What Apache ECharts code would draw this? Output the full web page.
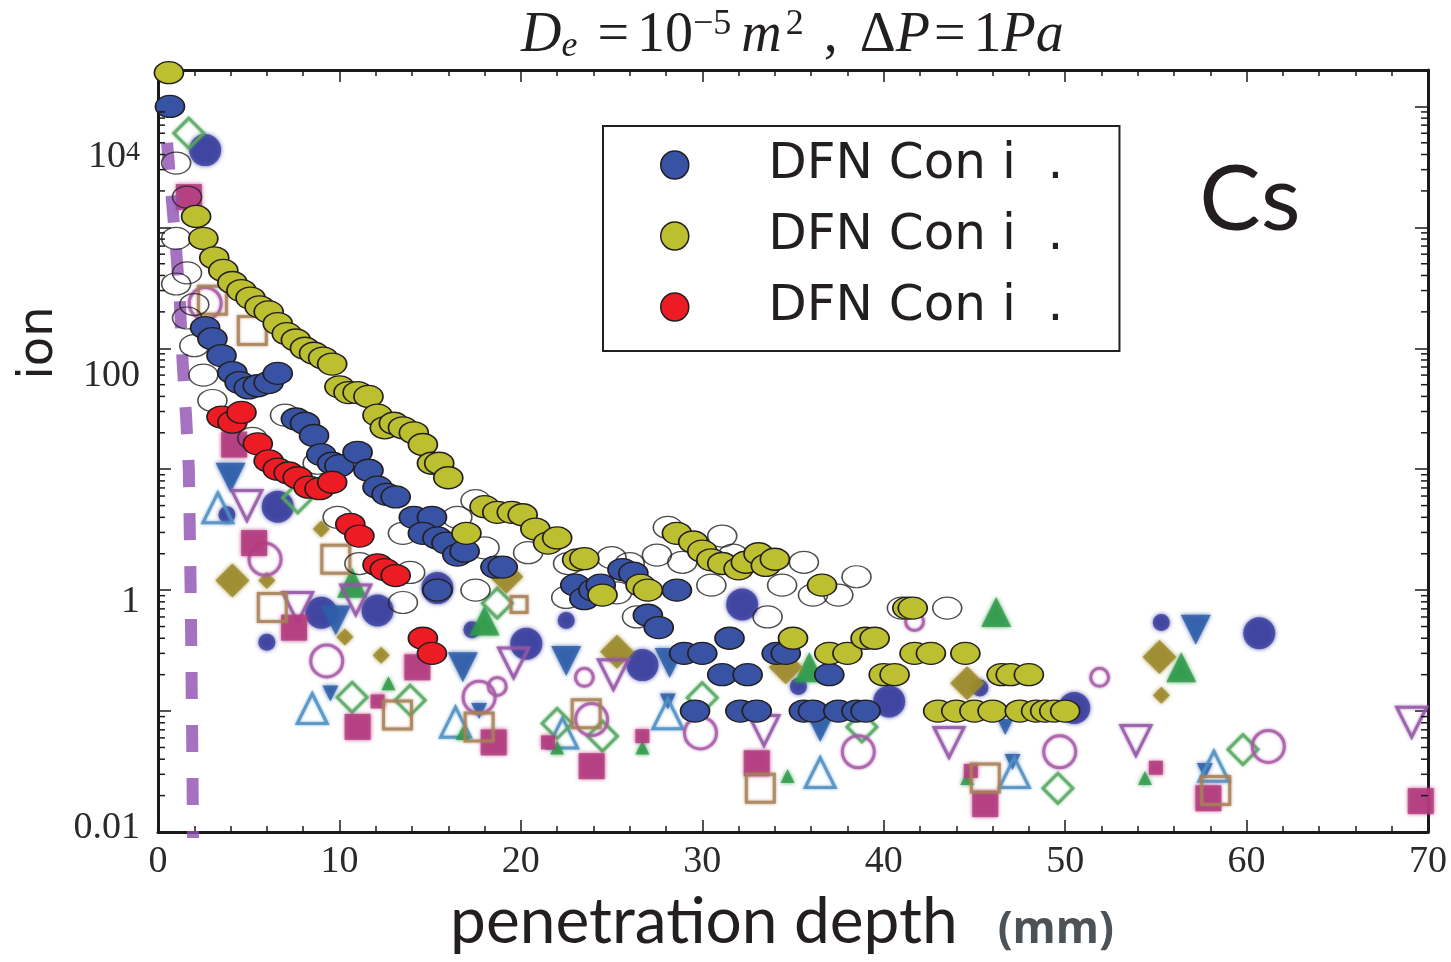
<!DOCTYPE html>
<html>
<head>
<meta charset="utf-8">
<script src="https://cdn.jsdelivr.net/npm/echarts@6/dist/echarts.min.js"></script>
<style>
  html, body { margin: 0; padding: 0; background: #fff; }
  #chart { width: 1451px; height: 962px; }
</style>
</head>
<body>
<div id="chart"></div>
<script>
// axis ranges
var xMin = 0, xMax = 70, yMin = 0.01, yMax = 20000;

// y tick labels (log decade -> label), shifted like in the scan
var yLabels = {
  '-2': '{t|0.01}\n{s7| }',
  '0': '{s24| }\n{t|1}',
  '2': '{s56| }\n{t|100}',
  '4': '{s102| }\n{t|10}{sup|4}'
};
var legendText = 'DFN Con i  .';

// DFN simulations [depth mm, value]
var blueDFN = [
  [0.66, 10000], [2.6, 148], [3.0, 120], [3.5, 87], [4.1, 63], [4.5, 52], [5.0, 47], [5.5, 49], [6.1, 52], [6.6, 62],
  [7.6, 26], [8.1, 24], [8.6, 19], [9.0, 13.2], [9.6, 11.2], [10.0, 10.7], [11.0, 13.8], [11.6, 9.8], [12.1, 7.1],
  [12.6, 6.2], [13.1, 5.9], [14.1, 4.0], [15.1, 4.0], [14.6, 2.95], [15.4, 2.7], [15.9, 2.45], [16.5, 1.95], [16.9, 2.1],
  [15.4, 1.0], [18.6, 1.55], [19.0, 1.55], [23.0, 1.1], [23.5, 0.85], [24.0, 1.0], [24.4, 1.1], [25.6, 1.48], [26.2, 1.38],
  [28.6, 1.0], [27.0, 0.62], [27.6, 0.49], [29.0, 0.3], [30.0, 0.3], [31.5, 0.4], [31.1, 0.2], [32.5, 0.2], [34.1, 0.3],
  [34.6, 0.3], [37.0, 0.2], [29.6, 0.1], [32.1, 0.1], [33.0, 0.1], [35.6, 0.1], [36.1, 0.1], [37.5, 0.1], [38.5, 0.1], [39.0, 0.1]
];
var yellowDFN = [
  [0.6, 19000], [2.1, 1230], [2.5, 810], [3.1, 560], [3.6, 440], [4.1, 350], [4.6, 300], [5.1, 260], [5.6, 220], [6.1, 200],
  [6.6, 160], [7.1, 132], [7.6, 117], [8.1, 100], [8.6, 91], [9.1, 83], [9.6, 74], [10.0, 48], [10.5, 43], [11.0, 43],
  [11.6, 40], [12.1, 28], [12.5, 22], [13.0, 24], [13.5, 22], [14.1, 20], [14.6, 16], [15.1, 11.2], [15.5, 11.2], [16.0, 8.5],
  [17.0, 2.95], [18.0, 4.9], [18.7, 4.4], [19.5, 4.4], [20.1, 4.2], [20.8, 3.2], [21.5, 2.45], [22.0, 2.7], [23.1, 1.78],
  [23.5, 1.82], [24.5, 0.91], [26.6, 1.1], [27.0, 1.0], [28.6, 2.95], [29.5, 2.5], [30.0, 2.1], [30.5, 1.78], [31.1, 1.66],
  [32.0, 1.5], [32.4, 1.7], [33.1, 2.0], [33.5, 1.6], [34.0, 1.8], [35.0, 0.4], [36.6, 1.1], [37.0, 0.3], [38.0, 0.3],
  [39.0, 0.4], [39.5, 0.4], [40.0, 0.2], [40.6, 0.2], [41.3, 0.71], [41.6, 0.71], [41.7, 0.3], [42.6, 0.3], [44.5, 0.3],
  [46.5, 0.2], [47.0, 0.2], [48.0, 0.2], [43.0, 0.1], [44.0, 0.1], [45.0, 0.1], [46.0, 0.1], [47.5, 0.1], [48.4, 0.1],
  [48.9, 0.1], [49.4, 0.1], [50.0, 0.1]
];
var redDFN = [
  [3.5, 27], [4.1, 24.5], [4.6, 29.5], [5.5, 16.2], [6.1, 11.7], [6.6, 10], [7.2, 9.3], [7.7, 8.5], [8.3, 7.1], [8.9, 6.9],
  [9.6, 7.8], [10.6, 3.5], [11.1, 2.8], [12.1, 1.62], [12.5, 1.48], [13.1, 1.32], [14.6, 0.4], [15.1, 0.3]
];
var openDFN = [
  [1.0, 3400], [1.6, 1780], [1.0, 810], [1.6, 420], [1.0, 340], [2.0, 230], [1.6, 178], [2.0, 105], [2.5, 60], [3.0, 37],
  [7.0, 28], [5.2, 18], [8.8, 11.2], [9.9, 4.0], [11.1, 1.66], [13.9, 1.4], [13.5, 2.95], [13.5, 0.79], [16.5, 4.0],
  [17.5, 5.5], [18.0, 2.24], [20.4, 2.04], [17.5, 1.0], [22.5, 0.87], [22.6, 1.66], [25.0, 1.86], [26.0, 1.66], [27.5, 1.95],
  [25.3, 0.95], [26.4, 0.6], [28.1, 3.3], [28.9, 1.7], [31.1, 2.8], [30.5, 1.1], [31.7, 1.95], [35.6, 1.7], [34.4, 1.1],
  [36.1, 0.91], [37.5, 0.91], [38.5, 1.29], [33.6, 0.6], [41.0, 0.71], [43.5, 0.71]
];

// experimental points of the scanned background figure
var bigBlue = [[2.6, 4350], [6.6, 4.9], [9.0, 0.65], [12.1, 0.68], [15.4, 1.04], [20.3, 0.36], [26.7, 0.24], [32.2, 0.76], [40.3, 0.12], [50.5, 0.106], [60.7, 0.44]];
var smallBlue = [[3.8, 4.2], [6.0, 0.37], [17.3, 0.47], [22.5, 0.56], [35.3, 0.16], [45.3, 0.155], [55.3, 0.54]];
var blueTri = [[4.0, 8.5], [9.8, 0.56], [16.8, 0.23], [22.5, 0.26], [28.2, 0.25], [36.5, 0.074], [57.2, 0.47]];
var blueTriSmall = [[9.5, 0.14], [17.7, 0.1], [28.1, 0.12], [46.7, 0.074], [47.1, 0.038], [57.7, 0.032]];
var tealTri = [[3.3, 4.8], [8.5, 0.105], [16.4, 0.081], [22.3, 0.066], [28.1, 0.095], [36.5, 0.031], [47.2, 0.031], [58.2, 0.035]];
var greenTri = [[10.7, 1.15], [18.0, 0.56], [35.9, 0.23], [46.2, 0.66], [56.4, 0.23]];
var greenTriSmall = [[12.7, 0.17], [16.8, 0.066], [22.0, 0.05], [26.7, 0.05], [34.7, 0.029], [44.6, 0.028], [54.4, 0.028]];
var greenDiamond = [[1.7, 6000], [7.7, 5.8], [18.7, 0.78], [10.7, 0.13], [13.9, 0.123], [22.0, 0.079], [24.5, 0.062], [30.0, 0.129], [38.8, 0.074], [49.6, 0.023], [59.8, 0.048]];
var oliveDiamond = [[4.1, 1.2], [19.2, 1.29], [25.3, 0.31], [34.6, 0.23], [44.6, 0.17], [55.2, 0.28]];
var oliveDiamondSmall = [[6.0, 1.2], [9.0, 3.2], [10.3, 0.41], [12.3, 0.29], [55.3, 0.135]];
var purpleCircle = [[2.6, 235], [5.9, 1.8], [9.3, 0.26], [17.7, 0.13], [23.9, 0.085], [29.9, 0.066], [38.6, 0.046], [49.7, 0.046], [61.2, 0.051]];
var purpleCircleSmall = [[18.7, 0.16], [23.5, 0.19], [41.7, 0.55], [51.9, 0.19]];
var purpleTri = [[4.9, 5.0], [7.7, 0.72], [10.9, 0.83], [19.6, 0.25], [25.1, 0.2], [33.4, 0.069], [43.6, 0.055], [53.9, 0.057], [69.1, 0.081]];
var magentaSq = [[1.7, 1780], [4.2, 16], [5.3, 2.45], [7.5, 0.49], [14.3, 0.23], [11.0, 0.074], [18.5, 0.055], [23.9, 0.035], [33.0, 0.037], [45.6, 0.017], [57.9, 0.019], [69.6, 0.018]];
var magentaSqSmall = [[12.1, 0.12], [21.5, 0.055], [26.7, 0.062], [44.8, 0.032], [55.0, 0.034]];
var orangeSq = [[3.0, 250], [5.2, 140], [6.3, 0.72], [9.8, 1.8], [13.2, 0.093], [17.7, 0.074], [23.6, 0.095], [33.2, 0.023], [45.6, 0.028], [58.3, 0.022]];
var orangeSqSmall = [[19.9, 0.76]];
// purple dashed model curve
var dashCurve = [[0.5, 5000], [1.0, 650], [1.2, 250], [1.35, 80], [1.55, 27], [1.7, 10], [1.8, 1], [1.87, 0.1], [1.93, 0.01], [1.95, 0.006]];

var font = 'Liberation Serif';
var ink = '#231f20';
var ellipse = 'path://M0,10A10,10 0 1,1 20,10A10,10 0 1,1 0,10Z';

// log minor ticks 2..9 per decade
var minorTicks = [];
for (var k = -2; k < 4; k++) {
  for (var m = 2; m <= 9; m++) minorTicks.push([0, m * Math.pow(10, k)]);
}

function bg(data, symbol, size, color, hollow, rotate) {
  return {
    type: 'scatter', data: data, symbol: symbol, symbolSize: size, symbolRotate: rotate || 0,
    silent: true, z: 1,
    itemStyle: hollow
      ? { color: 'rgba(255,255,255,0)', borderColor: color, borderWidth: 3, opacity: 0.8, shadowBlur: 3, shadowColor: color }
      : { color: color, opacity: 0.82, shadowBlur: 4, shadowColor: color }
  };
}
function dfn(name, data, color) {
  return {
    name: name, type: 'scatter', data: data, symbol: ellipse, symbolSize: [29, 22], z: 3,
    itemStyle: { color: color, borderColor: ink, borderWidth: 1.5, opacity: 1 }
  };
}

var myChart = echarts.init(document.getElementById('chart'));

var xAxisBase = {
  type: 'value', min: xMin, max: xMax, interval: 10,
  axisLine: { show: true, onZero: false, lineStyle: { color: '#1a1a1a', width: 3 } },
  axisTick: { show: true, inside: true, length: 12, lineStyle: { color: '#1a1a1a', width: 1.5 } },
  minorTick: { show: true, splitNumber: 5, length: 6, lineStyle: { color: '#1a1a1a', width: 1.5 } },
  splitLine: { show: false }
};
var yAxisBase = {
  type: 'log', logBase: 10, min: yMin, max: yMax, interval: 1,
  axisLine: { show: true, onZero: false, lineStyle: { color: '#1a1a1a', width: 3 } },
  axisTick: { show: true, inside: true, length: 13, lineStyle: { color: '#1a1a1a', width: 1.5 } },
  splitLine: { show: false }
};

var tNorm = { fontFamily: font, fontWeight: 'normal', color: ink };
function ts(extra) { return Object.assign({}, tNorm, extra); }

var option = {
  animation: false,
  backgroundColor: '#fff',
  title: {
    left: 516, top: 2,
    text: '{it|D}{sub|e}{eq|=}{n|10}{sup|\u22125}{m|m}{sup|2}{cm|,}{dl|\u0394}{it|P}{eq2|=}{n|1}{it|Pa}',
    textStyle: {
      fontWeight: 'normal',
      rich: {
        n: ts({ fontSize: 56, lineHeight: 58 }),
        it: ts({ fontSize: 56, lineHeight: 58, fontStyle: 'italic' }),
        m: ts({ fontSize: 56, lineHeight: 58, fontStyle: 'italic', padding: [0, 4, 0, 10] }),
        eq: ts({ fontSize: 56, lineHeight: 58, padding: [0, 8, 0, 20] }),
        eq2: ts({ fontSize: 56, lineHeight: 58, padding: [0, 8, 0, 4] }),
        cm: ts({ fontSize: 56, lineHeight: 58, padding: [0, 0, 0, 20] }),
        dl: ts({ fontSize: 56, lineHeight: 58, padding: [0, 0, 0, 22] }),
        sup: ts({ fontSize: 36, lineHeight: 24, verticalAlign: 'top' }),
        sub: ts({ fontSize: 36, lineHeight: 22, verticalAlign: 'bottom', fontStyle: 'italic' })
      }
    }
  },
  grid: { left: 158, right: 23, top: 70, bottom: 130, containLabel: false, outerBoundsMode: 'none' },
  legend: {
    left: 603, top: 126, orient: 'vertical',
    data: ['dfn#1', 'dfn#2', 'dfn#3'],
    formatter: function () { return legendText; },
    icon: 'circle', itemWidth: 29, itemHeight: 28, itemGap: 21,
    padding: [14, 56, 19, 57],
    borderColor: ink, borderWidth: 2,
    itemStyle: { borderColor: ink, borderWidth: 1.5 },
    textStyle: { fontFamily: 'DejaVu Sans', fontSize: 50, lineHeight: 50, color: ink, padding: [0, 0, 0, 74] },
    selectedMode: false
  },
  xAxis: [
    Object.assign({}, xAxisBase, {
      position: 'bottom',
      axisLabel: { fontFamily: font, fontSize: 38, color: '#2a2a2a', margin: 11 },
      name: '{a|penetration depth}{b|(mm)}',
      nameLocation: 'middle', nameGap: 58,
      nameTextStyle: {
        rich: {
          a: { fontFamily: 'Lato', fontSize: 64, color: ink },
          b: { fontFamily: 'Open Sans', fontWeight: 'bold', fontSize: 44, color: '#4d5257', padding: [16, 22, 0, 40] }
        }
      }
    }),
    Object.assign({}, xAxisBase, { position: 'top', axisLabel: { show: false } })
  ],
  yAxis: [
    Object.assign({}, yAxisBase, {
      position: 'left',
      axisLabel: {
        margin: 18, color: '#2a2a2a', showMaxLabel: false,
        formatter: function (v) {
          var l = Math.log10(v), k = Math.round(l);
          if (Math.abs(l - k) > 1e-6) return '';
          return yLabels[k] || '';
        },
        rich: {
          t: { fontFamily: font, fontSize: 38, lineHeight: 38, color: '#2a2a2a' },
          sup: { fontFamily: font, fontSize: 28, lineHeight: 24, verticalAlign: 'top', color: '#2a2a2a' },
          s7: { fontSize: 6, lineHeight: 7 },
          s24: { fontSize: 10, lineHeight: 24 },
          s56: { fontSize: 10, lineHeight: 56 },
          s102: { fontSize: 10, lineHeight: 102 }
        }
      }
    }),
    Object.assign({}, yAxisBase, { position: 'right', axisLabel: { show: false } })
  ],
  graphic: [
    {
      type: 'text', x: 40, y: 343, rotation: Math.PI / 2,
      style: { text: 'ion', font: '48px "DejaVu Sans"', fill: ink, align: 'center', verticalAlign: 'middle', textAlign: 'center', textVerticalAlign: 'middle' }
    },
    {
      type: 'text', x: 1250, y: 200,
      style: { text: 'Cs', font: '92px Lato', fill: ink, align: 'center', verticalAlign: 'middle', textAlign: 'center', textVerticalAlign: 'middle' }
    }
  ],
  series: [
    bg(bigBlue, 'circle', 32, '#3b3f9f', false),
    bg(smallBlue, 'circle', 17, '#3b3f9f', false),
    bg(blueTri, 'triangle', 30, '#2d5da8', false, 180),
    bg(blueTriSmall, 'triangle', 16, '#2d5da8', false, 180),
    bg(tealTri, 'triangle', 30, '#4d8fc2', true),
    bg(greenTri, 'triangle', 30, '#2f9a4b', false),
    bg(greenTriSmall, 'triangle', 14, '#2f9a4b', false),
    bg(greenDiamond, 'diamond', 30, '#56a860', true),
    bg(oliveDiamond, 'diamond', 34, '#9c8a2c', false),
    bg(oliveDiamondSmall, 'diamond', 17, '#9c8a2c', false),
    bg(purpleCircle, 'circle', 32, '#a65aa6', true),
    bg(purpleCircleSmall, 'circle', 18, '#a65aa6', true),
    bg(purpleTri, 'triangle', 30, '#9256a6', true, 180),
    bg(magentaSq, 'rect', 26, '#b23b7f', false),
    bg(magentaSqSmall, 'rect', 14, '#b23b7f', false),
    bg(orangeSq, 'rect', 28, '#a88058', true),
    bg(orangeSqSmall, 'rect', 16, '#a88058', true),
    {
      type: 'line', data: dashCurve, showSymbol: false, silent: true, z: 2, smooth: false,
      lineStyle: { color: '#8d4fb0', width: 12, type: [27, 26], opacity: 0.8, cap: 'butt' }
    },
    {
      type: 'scatter', data: openDFN, symbol: ellipse, symbolSize: [29, 22], z: 3, silent: true,
      itemStyle: { color: 'rgba(255,255,255,0)', borderColor: ink, borderWidth: 1.4 }
    },
    dfn('dfn#1', blueDFN, '#3953a4'),
    dfn('dfn#2', yellowDFN, '#bcbf2f'),
    dfn('dfn#3', redDFN, '#ed1c24'),
    {
      type: 'custom', data: minorTicks, silent: true, z: 10, clip: false,
      renderItem: function (params, api) {
        var v = api.value(1);
        var l = api.coord([xMin, v]);
        var r = api.coord([xMax, v]);
        var st = { stroke: '#1a1a1a', lineWidth: 1.5 };
        return {
          type: 'group', children: [
            { type: 'line', shape: { x1: l[0], y1: l[1], x2: l[0] + 7, y2: l[1] }, style: st },
            { type: 'line', shape: { x1: r[0], y1: r[1], x2: r[0] - 7, y2: r[1] }, style: st }
          ]
        };
      }
    }
  ]
};

myChart.setOption(option);
window.addEventListener('resize', function () { myChart.resize(); });
</script>
</body>
</html>
